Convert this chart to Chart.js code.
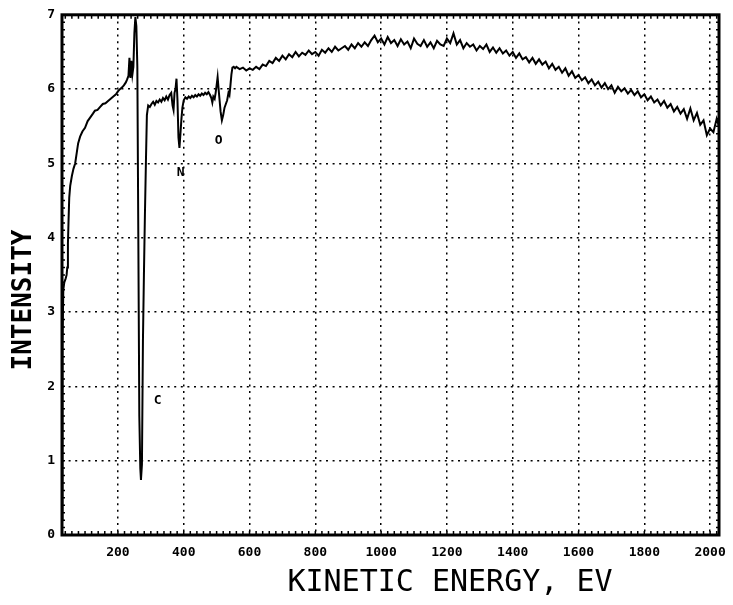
<!DOCTYPE html>
<html>
<head>
<meta charset="utf-8">
<title>Kinetic energy spectrum</title>
<script src="https://cdn.jsdelivr.net/npm/chart.js@4.4.1/dist/chart.umd.min.js"></script>
<style>
  body { margin: 0; background: #fff; }
  #wrap { width: 733px; height: 605px; }
</style>
</head>
<body>
<div id="wrap"><canvas id="spectrum" width="733" height="605"></canvas></div>
<script>
// Energy (eV) and intensity
const energy = [
  30, 31, 32, 34, 37, 41, 44, 46, 48, 50, 52, 55, 60, 65, 70, 75, 79, 85, 92, 100,
  108, 116, 124, 130, 138, 146, 154, 162, 170, 178, 186, 194, 200, 206, 212, 218, 224, 228, 232, 235,
  238, 241, 244, 247, 250, 253, 256, 259, 262, 265, 268, 270, 273, 276, 279, 282, 285, 288, 292, 297,
  302, 307, 312, 317, 322, 327, 332, 337, 342, 347, 352, 357, 362, 366, 369, 372, 375, 378, 381, 384,
  387, 390, 393, 396, 400, 405, 410, 415, 420, 425, 430, 435, 440, 445, 450, 455, 460, 465, 470, 475,
  480, 484, 487, 490, 494, 497, 500, 503, 506, 509, 512, 516, 520, 524, 528, 532, 536, 539, 542, 545,
  548, 552, 556, 560, 570, 580, 590, 600, 610, 620, 630, 640, 650, 660, 670, 680, 690, 700, 710, 720,
  730, 740, 750, 760, 770, 780, 790, 800, 810, 820, 830, 840, 850, 860, 870, 880, 890, 900, 910, 920,
  930, 940, 950, 960, 970, 980, 990, 1000, 1010, 1020, 1030, 1040, 1050, 1060, 1070, 1080, 1090, 1100, 1110, 1120,
  1130, 1140, 1150, 1160, 1170, 1180, 1190, 1200, 1210, 1220, 1230, 1240, 1250, 1260, 1270, 1280, 1290, 1300, 1310, 1320,
  1330, 1340, 1350, 1360, 1370, 1380, 1390, 1400, 1410, 1420, 1430, 1440, 1450, 1460, 1470, 1480, 1490, 1500, 1510, 1520,
  1530, 1540, 1550, 1560, 1570, 1580, 1590, 1600, 1610, 1620, 1630, 1640, 1650, 1660, 1670, 1680, 1690, 1700, 1710, 1720,
  1730, 1740, 1750, 1760, 1770, 1780, 1790, 1800, 1810, 1820, 1830, 1840, 1850, 1860, 1870, 1880, 1890, 1900, 1910, 1920,
  1930, 1940, 1950, 1960, 1970, 1980, 1990, 2000, 2010, 2020, 2027
];
const intensity = [
  0.2, 1.5, 2.6, 3.3, 3.4, 3.45, 3.5, 3.6, 3.92, 4.25, 4.54, 4.7, 4.83, 4.93, 5.0, 5.15, 5.27, 5.36, 5.43, 5.48,
  5.57, 5.62, 5.67, 5.71, 5.72, 5.76, 5.8, 5.81, 5.84, 5.87, 5.9, 5.93, 5.97, 6.0, 6.02, 6.05, 6.09, 6.13, 6.18, 6.42,
  6.15, 6.38, 6.2, 6.3, 6.75, 6.97, 6.85, 6.3, 4.0, 1.6, 0.9, 0.74, 0.95, 2.6, 3.5, 4.3, 5.0, 5.65, 5.78, 5.76,
  5.8, 5.83, 5.79, 5.84, 5.82, 5.86, 5.83, 5.88, 5.85, 5.9, 5.86, 5.92, 5.95, 5.78, 5.72, 5.95, 6.0, 6.14, 5.85, 5.35,
  5.21, 5.4, 5.6, 5.75, 5.85, 5.89, 5.87, 5.9, 5.88, 5.91, 5.89, 5.92, 5.9, 5.93, 5.91, 5.94, 5.92, 5.95, 5.93, 5.96,
  5.92, 5.88, 5.82, 5.9, 5.87, 5.95, 6.05, 6.16, 6.0, 5.85, 5.7, 5.58, 5.65, 5.75, 5.8, 5.85, 5.95, 5.92, 6.05, 6.2,
  6.29, 6.3, 6.28, 6.3, 6.27, 6.29, 6.25, 6.28, 6.26, 6.3, 6.27, 6.33, 6.31, 6.38, 6.35, 6.42, 6.38, 6.45, 6.4, 6.47,
  6.43, 6.5, 6.44, 6.49, 6.46, 6.52, 6.47, 6.5, 6.45, 6.53, 6.49, 6.55, 6.5, 6.57, 6.52, 6.55, 6.58, 6.53, 6.6, 6.55,
  6.62, 6.57, 6.63, 6.58, 6.66, 6.72, 6.63, 6.68, 6.6, 6.7, 6.62, 6.66, 6.58, 6.67, 6.6, 6.64, 6.55, 6.68, 6.61, 6.58,
  6.66, 6.57, 6.63, 6.55, 6.65, 6.6, 6.58, 6.68, 6.62, 6.75, 6.6, 6.66, 6.55, 6.62, 6.57, 6.6, 6.52, 6.58, 6.54, 6.6,
  6.5, 6.56, 6.49, 6.55, 6.48, 6.52, 6.45, 6.5, 6.42, 6.48, 6.4, 6.43, 6.36, 6.42, 6.34, 6.4, 6.33, 6.37, 6.28, 6.34,
  6.26, 6.3, 6.22, 6.28, 6.18, 6.24, 6.15, 6.19, 6.12, 6.16, 6.08, 6.13, 6.05, 6.1, 6.02, 6.08, 6.0, 6.05, 5.95, 6.03,
  5.97, 6.01, 5.94, 5.99, 5.92, 5.97, 5.89, 5.93, 5.85, 5.9, 5.82, 5.86, 5.78, 5.84, 5.75, 5.8, 5.7, 5.76, 5.67, 5.73,
  5.6, 5.74, 5.58, 5.68, 5.52, 5.58, 5.38, 5.47, 5.42, 5.6, 5.5
];
const energyTicks = [200, 400, 600, 800, 1000, 1200, 1400, 1600, 1800, 2000];
const intensityTicks = [0, 1, 2, 3, 4, 5, 6, 7];
const peakNames = ['C', 'N', 'O'];
const peakEnergy = [321, 391, 506];
const peakIntensity = [1.81, 4.88, 5.31];

const labelFont = 'bold 13px "DejaVu Sans Mono"';

// frame, small ticks on the frame, peak letters and axis titles
const decorPlugin = {
  id: 'decor',
  afterDraw(chart) {
    const ctx = chart.ctx;
    const area = chart.chartArea;
    const xs = chart.scales.x;
    const ys = chart.scales.y;
    ctx.save();
    ctx.strokeStyle = '#000';
    ctx.lineWidth = 1.5;
    ctx.beginPath();
    for (let e = 40; e < 2027; e += 20) {
      const px = xs.getPixelForValue(e);
      ctx.moveTo(px, area.bottom); ctx.lineTo(px, area.bottom - 4);
      ctx.moveTo(px, area.top); ctx.lineTo(px, area.top + 4);
    }
    for (let v = 0.1; v < 7; v += 0.1) {
      const py = ys.getPixelForValue(v);
      ctx.moveTo(area.left, py); ctx.lineTo(area.left + 3, py);
      ctx.moveTo(area.right, py); ctx.lineTo(area.right - 3, py);
    }
    ctx.stroke();

    ctx.lineWidth = 3;
    ctx.strokeRect(area.left, area.top, area.right - area.left, area.bottom - area.top);

    ctx.fillStyle = '#000';
    ctx.font = labelFont;
    ctx.textAlign = 'center';
    ctx.textBaseline = 'middle';
    peakNames.forEach((name, i) => {
      ctx.fillText(name, xs.getPixelForValue(peakEnergy[i]), ys.getPixelForValue(peakIntensity[i]));
    });

    ctx.font = '30px "DejaVu Sans Mono"';
    ctx.fillText('KINETIC ENERGY, EV', 450, 583);

    ctx.translate(24, 300);
    ctx.rotate(-Math.PI / 2);
    ctx.font = 'bold 26px "DejaVu Sans Mono"';
    ctx.fillText('INTENSITY', 0, 0);
    ctx.restore();
  }
};

const points = energy.map((e, i) => ({ x: e, y: intensity[i] }));

new Chart(document.getElementById('spectrum'), {
  type: 'scatter',
  data: {
    datasets: [{
      data: points,
      showLine: true,
      borderColor: '#000',
      borderWidth: 2,
      pointRadius: 0,
      tension: 0
    }]
  },
  options: {
    responsive: false,
    animation: false,
    layout: { padding: { left: 0, top: 14, right: 14, bottom: 0 } },
    plugins: {
      legend: { display: false },
      tooltip: { enabled: false }
    },
    scales: {
      x: {
        type: 'linear',
        min: 30,
        max: 2027,
        afterBuildTicks: (scale) => { scale.ticks = energyTicks.map(v => ({ value: v })); },
        afterFit: (scale) => {
          scale.height = 70;
          scale.paddingLeft = 0;
          scale.paddingRight = 0;
        },
        ticks: {
          font: { family: 'DejaVu Sans Mono', size: 13, weight: 'bold' },
          color: '#000',
          padding: 10,
          maxRotation: 0,
          autoSkip: false,
          callback: (value) => String(value)
        },
        grid: { color: '#000', lineWidth: 1.5, drawTicks: false },
        border: { display: false, dash: [2, 4.6] }
      },
      y: {
        min: 0,
        max: 7,
        afterBuildTicks: (scale) => { scale.ticks = intensityTicks.map(v => ({ value: v })); },
        afterFit: (scale) => { scale.width = 62; },
        ticks: {
          font: { family: 'DejaVu Sans Mono', size: 13, weight: 'bold' },
          color: '#000',
          padding: 7,
          callback: (value) => String(value)
        },
        grid: { color: '#000', lineWidth: 1.5, drawTicks: false },
        border: { display: false, dash: [2, 4.6] }
      }
    }
  },
  plugins: [decorPlugin]
});
</script>
</body>
</html>
